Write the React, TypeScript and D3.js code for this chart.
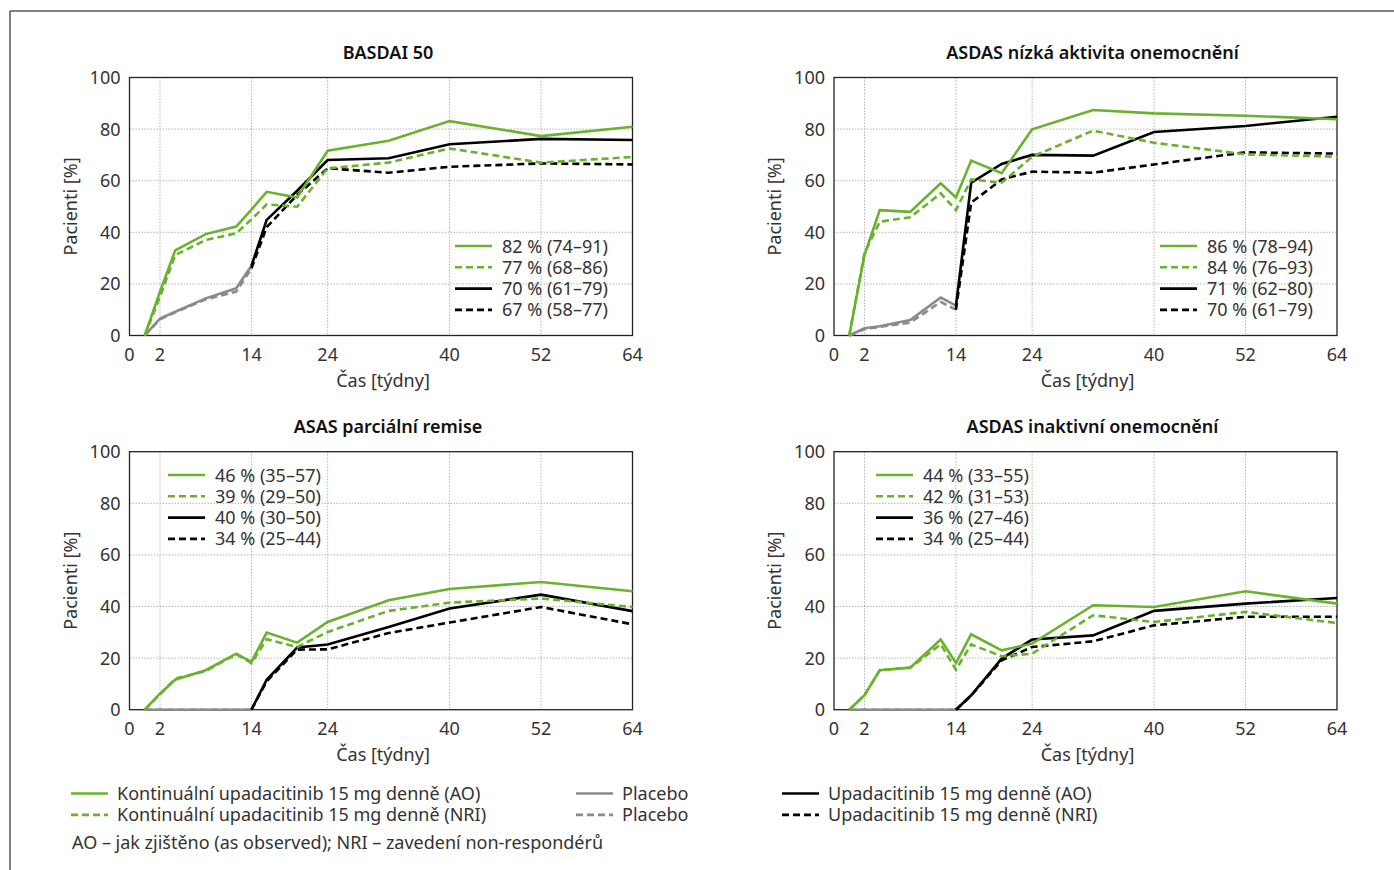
import * as d3 from 'd3';
import React from 'react';

// weeks at which each group was measured
const weeksCont = [0, 2, 4, 8, 12, 14, 16, 20, 24, 32, 40, 52, 64];
const weeksPlacebo = [0, 2, 4, 8, 12, 14];
const weeksSwitch = [14, 16, 20, 24, 32, 40, 52, 64];

// x tick positions (first one sits on the frame) and their labels
const xTickPos = [-2, 2, 14, 24, 40, 52, 64];
const xTickLabels = ['0', '2', '14', '24', '40', '52', '64'];
const yTicks = [0, 20, 40, 60, 80, 100];

// BASDAI 50
const basdaiContAO = [0, 17, 33, 39.3, 42.2, 48.8, 55.7, 53.5, 71.6, 75.5, 83.1, 77.3, 80.9];
const basdaiContNRI = [0, 15, 31.2, 37, 39.6, 45, 50.8, 49.9, 64.8, 67, 72.5, 67, 69.2];
const basdaiPboAO = [0, 6.6, 9.2, 14.4, 18.3, 27];
const basdaiPboNRI = [0, 6.3, 9, 14, 17, 26];
const basdaiUpaAO = [27, 44.8, 56.1, 68, 68.7, 74.1, 76.2, 75.8];
const basdaiUpaNRI = [26, 42, 54.5, 64.8, 63.1, 65.4, 66.7, 66.3];
const basdaiLegend = ['82 % (74–91)', '77 % (68–86)', '70 % (61–79)', '67 % (58–77)'];

// ASDAS nízká aktivita
const ldaContAO = [0, 31.2, 48.6, 47.9, 59, 53.5, 67.8, 62.9, 79.9, 87.4, 86.1, 85.2, 83.8];
const ldaContNRI = [0, 32, 44.1, 45.8, 55.1, 48.6, 60.5, 59.2, 69.3, 79.4, 74.7, 70.2, 69.3];
const ldaPboAO = [0, 2.8, 3.6, 6, 14.7, 11.6];
const ldaPboNRI = [0, 2.5, 3.3, 5, 13, 10];
const ldaUpaAO = [11.6, 59.2, 66.5, 70, 69.7, 78.9, 81.2, 84.8];
const ldaUpaNRI = [10, 51.5, 60.5, 63.5, 63.1, 66.3, 71, 70.5];
const ldaLegend = ['86 % (78–94)', '84 % (76–93)', '71 % (62–80)', '70 % (61–79)'];

// ASAS parciální remise
const prContAO = [0, 6.2, 11.6, 15.3, 21.7, 18.5, 29.9, 26, 34, 42.4, 46.8, 49.5, 45.9];
const prContNRI = [0, 6, 12, 15, 21.5, 18, 27.3, 24.3, 30.1, 38.3, 41.5, 43.1, 39.8];
const prPboAO = [0, 0, 0, 0, 0, 0];
const prPboNRI = [0, 0, 0, 0, 0, 0];
const prUpaAO = [0, 11.6, 24.1, 25.3, 32.1, 39.2, 44.6, 38.2];
const prUpaNRI = [0, 11, 23.3, 23.4, 29.7, 33.8, 39.8, 33.1];
const prLegend = ['46 % (35–57)', '39 % (29–50)', '40 % (30–50)', '34 % (25–44)'];

// ASDAS inaktivní onemocnění
const inContAO = [0, 5.6, 15.3, 16.3, 27.2, 18.1, 29.2, 23, 25.6, 40.5, 39.8, 45.9, 41.1];
const inContNRI = [0, 5.6, 15.3, 16.3, 25.3, 15.5, 25.3, 20.7, 21.7, 36.6, 34, 37.9, 33.6];
const inPboAO = [0, 0, 0, 0, 0, 0];
const inPboNRI = [0, 0, 0, 0, 0, 0];
const inUpaAO = [0, 5.6, 19.8, 27.2, 28.8, 38.3, 41.1, 43.3];
const inUpaNRI = [0, 5.5, 19.1, 24.3, 26.5, 32.7, 36, 36];
const inLegend = ['44 % (33–55)', '42 % (31–53)', '36 % (27–46)', '34 % (25–44)'];

const GREEN = '#6ab22c';
const GRAY = '#8a8a8a';
const BLACK = '#000';
const FONT = '"Noto Sans", "Open Sans", sans-serif';
const DASH = '7,4';

const panels = [
    {title: 'BASDAI 50', left: 129.5, top: 77.5, legendX: 455, legendY: 246,
        cont: [basdaiContAO, basdaiContNRI], pbo: [basdaiPboAO, basdaiPboNRI], upa: [basdaiUpaAO, basdaiUpaNRI], legend: basdaiLegend},
    {title: 'ASDAS nízká aktivita onemocnění', left: 834, top: 77.5, legendX: 1160, legendY: 246,
        cont: [ldaContAO, ldaContNRI], pbo: [ldaPboAO, ldaPboNRI], upa: [ldaUpaAO, ldaUpaNRI], legend: ldaLegend},
    {title: 'ASAS parciální remise', left: 129.5, top: 451.7, legendX: 168, legendY: 475,
        cont: [prContAO, prContNRI], pbo: [prPboAO, prPboNRI], upa: [prUpaAO, prUpaNRI], legend: prLegend},
    {title: 'ASDAS inaktivní onemocnění', left: 834, top: 451.7, legendX: 876, legendY: 475,
        cont: [inContAO, inContNRI], pbo: [inPboAO, inPboNRI], upa: [inUpaAO, inUpaNRI], legend: inLegend},
];

const plotW = 503;
const plotH = 258;

function Panel({p}) {
    const x = d3.scaleLinear().domain([-2, 64]).range([p.left, p.left + plotW]);
    const y = d3.scaleLinear().domain([0, 100]).range([p.top + plotH, p.top]);
    const line = (weeks, vals) => d3.line()
        .x((d, i) => x(weeks[i]))
        .y(d => y(d))(vals);

    const cx = p.left + plotW / 2;
    const series = [
        {weeks: weeksPlacebo, vals: p.pbo[1], color: GRAY, dash: DASH},
        {weeks: weeksPlacebo, vals: p.pbo[0], color: GRAY, dash: null},
        {weeks: weeksSwitch, vals: p.upa[1], color: BLACK, dash: DASH},
        {weeks: weeksSwitch, vals: p.upa[0], color: BLACK, dash: null},
        {weeks: weeksCont, vals: p.cont[1], color: GREEN, dash: DASH},
        {weeks: weeksCont, vals: p.cont[0], color: GREEN, dash: null},
    ];
    const legendStyle = [
        {color: GREEN, dash: null}, {color: GREEN, dash: DASH},
        {color: BLACK, dash: null}, {color: BLACK, dash: DASH},
    ];

    return (
        <g>
            <text x={cx + 7} y={p.top - 19} textAnchor="middle" fontSize={18} fontWeight={600} fill="#111">{p.title}</text>
            {/* grid */}
            {yTicks.slice(1, -1).map(t => (
                <line key={'gy' + t} x1={p.left} x2={p.left + plotW} y1={y(t)} y2={y(t)}
                    stroke="#b5b5b5" strokeWidth={1} strokeDasharray="1.5,1.5" />
            ))}
            {xTickPos.slice(1, -1).map(t => (
                <line key={'gx' + t} x1={x(t)} x2={x(t)} y1={p.top} y2={p.top + plotH}
                    stroke="#b5b5b5" strokeWidth={1} strokeDasharray="1.5,1.5" />
            ))}
            <rect x={p.left} y={p.top} width={plotW} height={plotH} fill="none" stroke="#222" strokeWidth={1.3} />
            {/* data */}
            {series.map((s, i) => (
                <path key={i} d={line(s.weeks, s.vals)} fill="none" stroke={s.color}
                    strokeWidth={2.6} strokeDasharray={s.dash || undefined} />
            ))}
            {/* axes labels */}
            {yTicks.map(t => (
                <text key={'ty' + t} x={p.left - 9} y={y(t) + 6.5} textAnchor="end" fontSize={18} fill="#333">{t}</text>
            ))}
            {xTickPos.map((t, i) => (
                <text key={'tx' + t} x={x(t)} y={p.top + plotH + 25.5} textAnchor="middle" fontSize={18} fill="#333">{xTickLabels[i]}</text>
            ))}
            <text x={cx + 2} y={p.top + plotH + 51} textAnchor="middle" fontSize={18} fill="#333">Čas [týdny]</text>
            <text transform={`translate(${p.left - 53},${p.top + plotH / 2}) rotate(-90)`} textAnchor="middle"
                fontSize={18} fill="#333">Pacienti [%]</text>
            {/* legend */}
            {p.legend.map((l, i) => (
                <g key={'lg' + i}>
                    <line x1={p.legendX} x2={p.legendX + 37} y1={p.legendY + i * 21.3} y2={p.legendY + i * 21.3}
                        stroke={legendStyle[i].color} strokeWidth={2.6} strokeDasharray={legendStyle[i].dash || undefined} />
                    <text x={p.legendX + 47} y={p.legendY + i * 21.3 + 6.5} fontSize={18} fill="#333">{l}</text>
                </g>
            ))}
        </g>
    );
}

const bottomLegend = [
    {x: 71, row: 0, color: GREEN, dash: null, label: 'Kontinuální upadacitinib 15 mg denně (AO)'},
    {x: 71, row: 1, color: GREEN, dash: DASH, label: 'Kontinuální upadacitinib 15 mg denně (NRI)'},
    {x: 576, row: 0, color: GRAY, dash: null, label: 'Placebo'},
    {x: 576, row: 1, color: GRAY, dash: DASH, label: 'Placebo'},
    {x: 782, row: 0, color: BLACK, dash: null, label: 'Upadacitinib 15 mg denně (AO)'},
    {x: 782, row: 1, color: BLACK, dash: DASH, label: 'Upadacitinib 15 mg denně (NRI)'},
];

export default function App() {
    return (
        <svg width={1394} height={870} style={{position: 'absolute', left: 0, top: 0, background: '#fff'}}
            fontFamily={FONT}>
            <line x1={10} x2={1394} y1={11} y2={11} stroke="#555" strokeWidth={1.5} />
            <line x1={10} x2={10} y1={11} y2={870} stroke="#555" strokeWidth={1.5} />
            {panels.map((p, i) => <Panel key={i} p={p} />)}
            {bottomLegend.map((b, i) => (
                <g key={'bl' + i}>
                    <line x1={b.x} x2={b.x + 37} y1={793.5 + b.row * 21.4} y2={793.5 + b.row * 21.4}
                        stroke={b.color} strokeWidth={2.6} strokeDasharray={b.dash || undefined} />
                    <text x={b.x + 46} y={793.5 + b.row * 21.4 + 6.5} fontSize={18} fill="#333">{b.label}</text>
                </g>
            ))}
            <text x={72} y={849} fontSize={18} fill="#333">AO – jak zjištěno (as observed); NRI – zavedení non-respondérů</text>
        </svg>
    );
}
